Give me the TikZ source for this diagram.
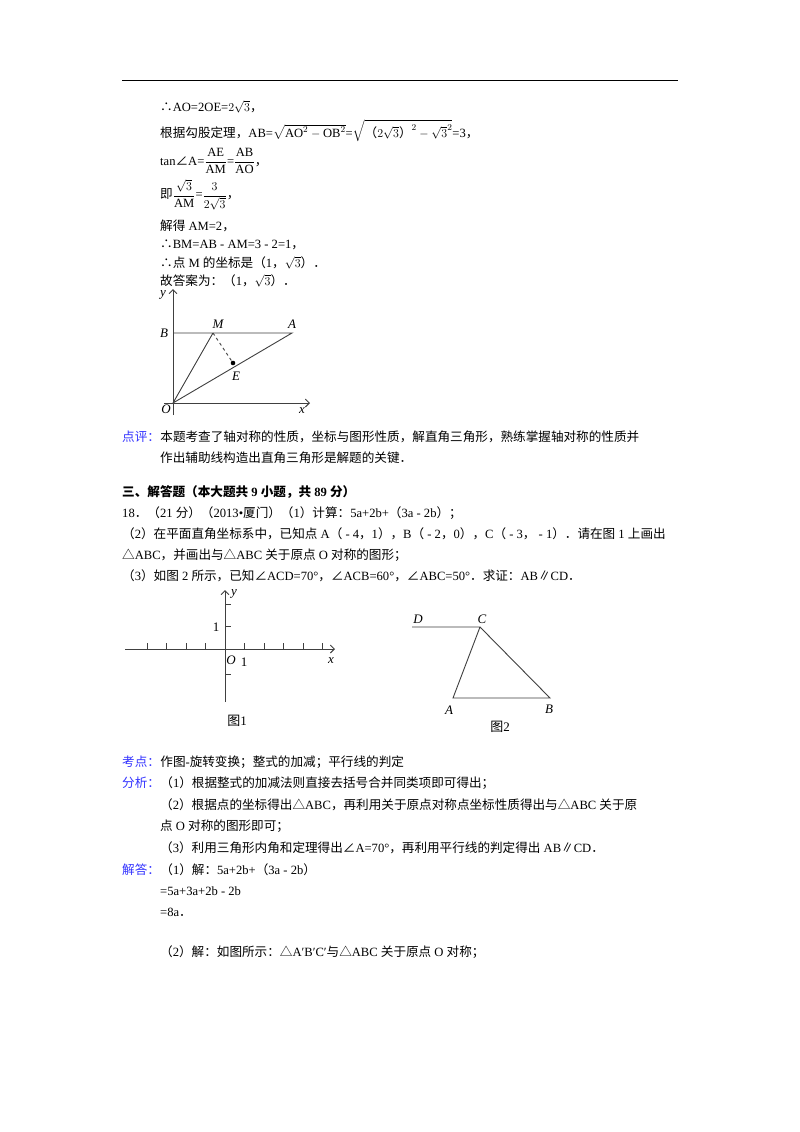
\documentclass[tikz,border=0pt]{standalone}
\usepackage{amsmath}
\usepackage{fontspec}
\setmainfont{Liberation Serif}
\newfontfamily\cjk{Noto Sans CJK SC}
\usetikzlibrary{arrows.meta}
\XeTeXinterchartokenstate=1
\newXeTeXintercharclass\cjkclass
\newcount\cc
\def\setrange#1#2{\cc=#1\relax\loop\XeTeXcharclass\cc=\cjkclass\advance\cc 1\relax\ifnum\cc<#2\repeat}
\setrange{"4E00}{"A000}
\setrange{"3000}{"3040}
\setrange{"FF00}{"FFF0}
\setrange{"2200}{"2300}
\setrange{"25A0}{"2600}
\XeTeXinterchartoks 0 \cjkclass={\cjk}
\XeTeXinterchartoks 4095 \cjkclass={\cjk}
\XeTeXinterchartoks \cjkclass 0={\rmfamily}
\XeTeXinterchartoks \cjkclass 4095={\rmfamily}
\definecolor{lab}{HTML}{3333FF}
\begin{document}
\begin{tikzpicture}[x=1pt,y=-1pt,
  t/.style={anchor=west,inner sep=0pt,font=\fontsize{12.6}{15}\selectfont},
  it/.style={inner sep=1pt,font=\fontsize{13}{15}\selectfont\itshape},
  ln/.style={line width=0.9pt,draw=black!75}]
\useasboundingbox (0,0) rectangle (800,1132);
\fill[white] (0,0) rectangle (800,1132);
\draw[line width=1pt] (122,80) -- (678,80);
\node[t] (l1) at (160,107) {∴AO=2OE=$2\sqrt{3}$，};
\node[t] (l2) at (160,131) {根据勾股定理，AB=$\sqrt{\mathrm{AO}^2-\mathrm{OB}^2}$=$\sqrt{\text{（}2\sqrt{3}\text{）}^{2}-\sqrt{3}^{2}}$=3，};
\node[t] (l3) at (160,161) {tan∠A=$\dfrac{\mathrm{AE}}{\mathrm{AM}}$=$\dfrac{\mathrm{AB}}{\mathrm{AO}}$，};
\node[t] (l4) at (160,195) {即$\dfrac{\sqrt{3}}{\mathrm{AM}}$=$\dfrac{3}{2\sqrt{3}}$，};
\node[t] (l5) at (160,226) {解得 AM=2，};
\node[t] (l6) at (160,245) {∴BM=AB - AM=3 - 2=1，};
\node[t] (l7) at (160,263) {∴点 M 的坐标是（1，$\sqrt{3}$）．};
\node[t] (l8) at (160,281) {故答案为：（1，$\sqrt{3}$）．};
% figure
\coordinate (O) at (173,403);
\coordinate (B) at (173,333);
\coordinate (A) at (292,333);
\coordinate (M) at (213,333);
\coordinate (E) at (233,363);
\coordinate (yt) at (173,289);
\coordinate (yb) at (173,415);
\coordinate (xl) at (164,403);
\coordinate (xt) at (310,403);
\draw[ln,-{Straight Barb[length=4pt]}] (yb) -- (yt);
\draw[ln,-{Straight Barb[length=4pt]}] (xl) -- (xt);
\draw[ln] (B) -- (A) -- (O) -- (M);
\draw[ln,dashed] (M) -- (E);
\fill (E) circle (2.3pt);
\node[it] at (163,295) {y};
\node[it] at (164,333) {B};
\node[it] at (292,324) {A};
\node[it] at (218,324) {M};
\node[it] at (236,376) {E};
\node[it] at (166,409) {O};
\node[it] at (302,411) {x};
% 点评
\node[t,text=lab] (dp) at (122,437) {点评：};
\node[t] (dp1) at (dp.east) {本题考查了轴对称的性质，坐标与图形性质，解直角三角形，熟练掌握轴对称的性质并};
\node[t] (dp2) at (160,458) {作出辅助线构造出直角三角形是解题的关键．};
\node[t,font=\fontsize{12.6}{15}\selectfont\bfseries] (h) at (122,492) {三、解答题（本大题共 9 小题，共 89 分）};
\node[t] (q1) at (122,513) {18．（21 分）（2013•厦门）（1）计算：5a+2b+（3a - 2b）；};
\node[t] (q2) at (122,534) {（2）在平面直角坐标系中，已知点 A（ - 4，1），B（ - 2，0），C（ - 3， - 1）．请在图 1 上画出};
\node[t] (q3) at (122,555) {△ABC，并画出与△ABC 关于原点 O 对称的图形；};
\node[t] (q4) at (122,576) {（3）如图 2 所示，已知∠ACD=70°，∠ACB=60°，∠ABC=50°．求证：AB∥CD．};
% fig 1
\coordinate (o1) at (225,649);
\coordinate (xa) at (125,649);
\coordinate (xb) at (335,649);
\coordinate (ya) at (225,702);
\coordinate (yb1) at (225,590);
\draw[ln,-{Straight Barb[length=4pt]}] (xa) -- (xb);
\draw[ln,-{Straight Barb[length=4pt]}] (ya) -- (yb1);
\foreach \i in {-4,-3,-2,-1,1,2,3,4,5} \draw[ln,line width=0.6pt] (225+19.5*\i,649) -- (225+19.5*\i,643);
\foreach \j in {-1.15,1,2} \draw[ln,line width=0.6pt] (225,649-22.3*\j) -- (231,649-22.3*\j);
\node[it] at (234,594) {y};
\node[it] at (331,661) {x};
\node[it] at (231,660) {O};
\node[inner sep=1pt,font=\fontsize{13}{15}\selectfont] at (244,662) {1};
\node[inner sep=1pt,font=\fontsize{13}{15}\selectfont] at (216,627) {1};
\node[inner sep=0pt,font=\fontsize{13}{15}\selectfont] (f1) at (237,721) {图1};
% fig 2
\coordinate (D) at (412,627);
\coordinate (C) at (480,627);
\coordinate (A2) at (453,698);
\coordinate (B2) at (550,698);
\draw[ln] (D) -- (C) -- (A2) -- (B2) -- (C);
\node[it] at (418,619) {D};
\node[it] at (482,619) {C};
\node[it] at (449,710) {A};
\node[it] at (549,709) {B};
\node[inner sep=0pt,font=\fontsize{13}{15}\selectfont] (f2) at (500,727) {图2};
% analysis
\node[t,text=lab] (kd) at (122,762) {考点：};
\node[t] at (kd.east) {作图-旋转变换；整式的加减；平行线的判定};
\node[t,text=lab] (fx) at (122,783) {分析：};
\node[t] at (fx.east) {（1）根据整式的加减法则直接去括号合并同类项即可得出；};
\node[t] at (160,805) {（2）根据点的坐标得出△ABC，再利用关于原点对称点坐标性质得出与△ABC 关于原};
\node[t] at (160,826) {点 O 对称的图形即可；};
\node[t] at (160,848) {（3）利用三角形内角和定理得出∠A=70°，再利用平行线的判定得出 AB∥CD．};
\node[t,text=lab] (jd) at (122,870) {解答：};
\node[t] at (jd.east) {（1）解：5a+2b+（3a - 2b）};
\node[t] at (160,891) {=5a+3a+2b - 2b};
\node[t] at (160,912) {=8a．};
\node[t] at (160,952) {（2）解：如图所示：△A′B′C′与△ABC 关于原点 O 对称；};
\end{tikzpicture}
\end{document}
